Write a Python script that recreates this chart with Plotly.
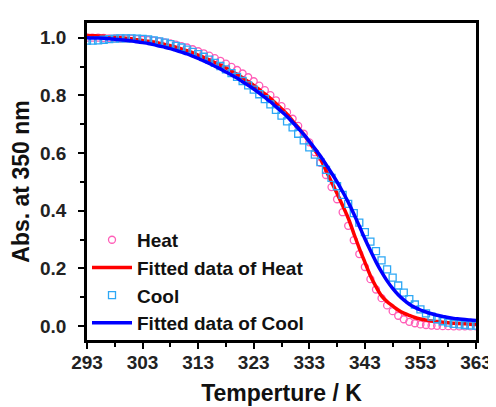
import plotly.graph_objects as go

temps = list(range(293, 364))

heat = [1.000, 1.000, 1.000, 0.999, 0.998, 0.998, 0.997, 0.997, 0.996, 0.995,
        0.993, 0.992, 0.990, 0.987, 0.984, 0.980, 0.976, 0.971, 0.966, 0.960,
        0.953, 0.946, 0.938, 0.929, 0.920, 0.910, 0.899, 0.888, 0.876, 0.863,
        0.849, 0.834, 0.818, 0.801, 0.783, 0.763, 0.742, 0.719, 0.694, 0.667,
        0.637, 0.603, 0.566, 0.524, 0.482, 0.440, 0.395, 0.348, 0.298, 0.250,
        0.205, 0.163, 0.127, 0.097, 0.072, 0.052, 0.036, 0.024, 0.015, 0.010,
        0.006, 0.004, 0.002, 0.001, 0.000, 0.000, -0.001, -0.001, -0.001, -0.001,
        -0.001]

cool = [0.990, 0.990, 0.991, 0.993, 0.995, 0.997, 0.998, 0.998, 0.998, 0.997,
        0.996, 0.994, 0.991, 0.987, 0.983, 0.978, 0.972, 0.966, 0.959, 0.951,
        0.943, 0.934, 0.924, 0.913, 0.902, 0.890, 0.877, 0.864, 0.850, 0.835,
        0.820, 0.804, 0.787, 0.769, 0.750, 0.730, 0.710, 0.689, 0.667, 0.644,
        0.620, 0.595, 0.569, 0.542, 0.514, 0.485, 0.455, 0.424, 0.392, 0.359,
        0.326, 0.293, 0.260, 0.228, 0.197, 0.168, 0.141, 0.116, 0.094, 0.075,
        0.058, 0.044, 0.033, 0.024, 0.017, 0.012, 0.008, 0.006, 0.004, 0.003,
        0.002]

fit_heat = [1.008, 1.007, 1.006, 1.005, 1.003, 1.002, 1.000, 0.998, 0.996, 0.993,
            0.990, 0.988, 0.985, 0.981, 0.977, 0.972, 0.967, 0.961, 0.955, 0.948,
            0.940, 0.932, 0.923, 0.914, 0.905, 0.895, 0.884, 0.873, 0.861, 0.848,
            0.835, 0.820, 0.805, 0.790, 0.772, 0.754, 0.735, 0.712, 0.689, 0.665,
            0.638, 0.610, 0.580, 0.540, 0.500, 0.460, 0.418, 0.375, 0.322, 0.270,
            0.222, 0.175, 0.137, 0.105, 0.085, 0.070, 0.056, 0.045, 0.037, 0.030,
            0.025, 0.021, 0.018, 0.016, 0.014, 0.012, 0.010, 0.009, 0.008, 0.007,
            0.006]

fit_cool = [1.000, 0.999, 0.999, 0.998, 0.996, 0.995, 0.993, 0.991, 0.989, 0.986,
            0.983, 0.980, 0.976, 0.971, 0.967, 0.962, 0.956, 0.950, 0.944, 0.936,
            0.928, 0.920, 0.911, 0.901, 0.892, 0.881, 0.871, 0.860, 0.847, 0.835,
            0.822, 0.808, 0.793, 0.778, 0.761, 0.744, 0.727, 0.707, 0.686, 0.665,
            0.641, 0.616, 0.590, 0.561, 0.531, 0.500, 0.466, 0.430, 0.390, 0.347,
            0.303, 0.262, 0.223, 0.188, 0.157, 0.131, 0.109, 0.091, 0.076, 0.065,
            0.056, 0.049, 0.043, 0.038, 0.034, 0.030, 0.027, 0.025, 0.023, 0.021,
            0.020]

x_ticks = [293, 303, 313, 323, 333, 343, 353, 363]
y_ticks = [0.0, 0.2, 0.4, 0.6, 0.8, 1.0]
y_tick_labels = ["0.0", "0.2", "0.4", "0.6", "0.8", "1.0"]

font_family = "Liberation Sans, Arial, sans-serif"

fig = go.Figure()
fig.add_trace(go.Scatter(
    x=temps, y=heat, mode="markers", name="Heat",
    marker=dict(symbol="circle-open", size=7, color="#FF5EB8", line=dict(width=1.3)),
))
fig.add_trace(go.Scatter(
    x=temps, y=fit_heat, mode="lines", name="Fitted data of Heat",
    line=dict(color="#FF0000", width=3.5, shape="spline"),
))
fig.add_trace(go.Scatter(
    x=temps, y=cool, mode="markers", name="Cool",
    marker=dict(symbol="square-open", size=7, color="#2EA8F5", line=dict(width=1.3)),
))
fig.add_trace(go.Scatter(
    x=temps, y=fit_cool, mode="lines", name="Fitted data of Cool",
    line=dict(color="#0000FF", width=3.5, shape="spline"),
))

axis_common = dict(
    showline=True, linecolor="black", linewidth=2.5, mirror=True,
    ticks="outside", ticklen=6, tickwidth=2, tickcolor="black",
    showgrid=False, zeroline=False,
    tickfont=dict(family=font_family, size=19, color="#222222", weight="bold"),
)

fig.update_xaxes(
    range=[293, 363], tickvals=x_ticks,
    minor=dict(ticks="outside", ticklen=4, tickwidth=2, tickcolor="black", dtick=5, tick0=293),
    title=dict(text="Temperture / K", font=dict(family=font_family, size=23, color="#111111", weight="bold"), standoff=14),
    ticklabelstandoff=-3,
    **axis_common,
)
fig.update_yaxes(
    range=[-0.048, 1.051], tickvals=y_ticks, ticktext=y_tick_labels,
    minor=dict(ticks="outside", ticklen=4, tickwidth=2, tickcolor="black", dtick=0.1, tick0=0),
    title=dict(text="Abs. at 350 nm", font=dict(family=font_family, size=23, color="#111111", weight="bold"), standoff=4),
    ticklabelstandoff=8,
    **axis_common,
)

fig.update_layout(
    width=496, height=407,
    margin=dict(l=77, r=17, t=14, b=70),
    plot_bgcolor="white", paper_bgcolor="white",
    showlegend=True,
    legend=dict(
        x=0.0, y=-0.006, xanchor="left", yanchor="bottom",
        bgcolor="rgba(0,0,0,0)",
        font=dict(family=font_family, size=19, color="#111111", weight="bold"),
        tracegroupgap=0, itemwidth=40,
    ),
)

fig.write_html("out.html")
